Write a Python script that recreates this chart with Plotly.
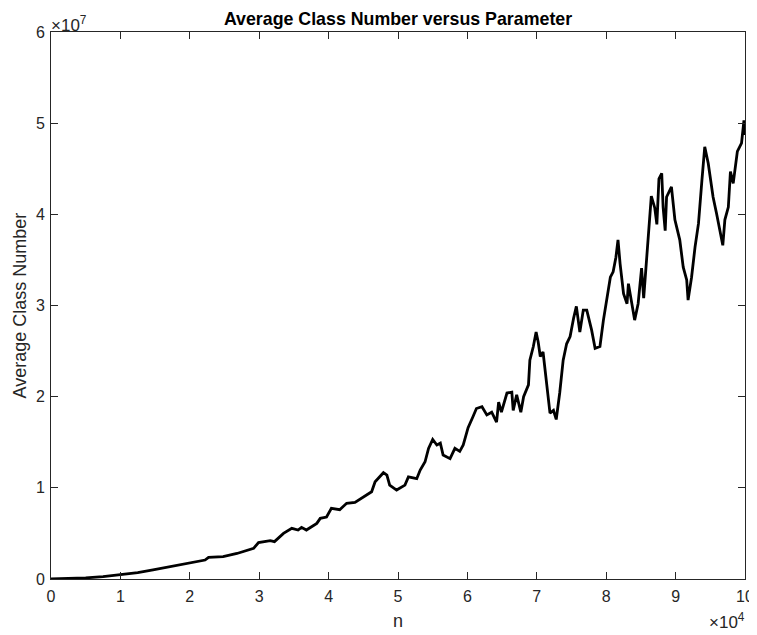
import plotly.graph_objects as go

# n values in units of 1e4, average class number in units of 1e7
n_scaled = [0, 0.25, 0.5, 0.75, 0.99, 1.25, 1.47, 1.75, 1.96, 2.22, 2.27, 2.48, 2.68, 2.92, 2.99,
            3.16, 3.22, 3.35, 3.47, 3.56, 3.61, 3.68, 3.83, 3.88, 3.97, 4.04, 4.16, 4.26, 4.38,
            4.50, 4.62, 4.67, 4.79, 4.84, 4.88, 4.98, 5.10, 5.15, 5.27, 5.32, 5.39, 5.44, 5.50,
            5.56, 5.61, 5.65, 5.75, 5.82, 5.89, 5.94, 6.01, 6.08, 6.13, 6.21, 6.28, 6.35, 6.42,
            6.45, 6.49, 6.57, 6.64, 6.66, 6.71, 6.77, 6.81, 6.88, 6.90, 6.95, 6.99, 7.02, 7.05,
            7.09, 7.14, 7.19, 7.24, 7.28, 7.33, 7.38, 7.43, 7.48, 7.53, 7.57, 7.62, 7.67, 7.72,
            7.79, 7.84, 7.91, 7.96, 8.01, 8.06, 8.10, 8.14, 8.17, 8.20, 8.25, 8.30, 8.32, 8.37,
            8.41, 8.46, 8.51, 8.54, 8.58, 8.61, 8.65, 8.70, 8.73, 8.76, 8.80, 8.82, 8.85, 8.87,
            8.94, 8.99, 9.06, 9.11, 9.16, 9.18, 9.23, 9.28, 9.33, 9.38, 9.42, 9.47, 9.50, 9.54,
            9.59, 9.63, 9.68, 9.71, 9.76, 9.79, 9.83, 9.89, 9.95, 9.985, 10.0]
avg_scaled = [0, 0.003, 0.012, 0.027, 0.044, 0.07, 0.099, 0.14, 0.172, 0.208, 0.238, 0.245, 0.28,
              0.336, 0.40, 0.42, 0.41, 0.50, 0.556, 0.537, 0.567, 0.537, 0.61, 0.665, 0.68,
              0.775, 0.76, 0.83, 0.84, 0.90, 0.957, 1.067, 1.166, 1.14, 1.03, 0.976, 1.03, 1.12,
              1.10, 1.195, 1.286, 1.433, 1.53, 1.47, 1.49, 1.36, 1.32, 1.433, 1.40, 1.47, 1.66,
              1.78, 1.87, 1.89, 1.80, 1.83, 1.72, 1.94, 1.83, 2.04, 2.05, 1.85, 2.02, 1.83, 2.0,
              2.13, 2.40, 2.55, 2.71, 2.60, 2.44, 2.49, 2.15, 1.82, 1.85, 1.75, 2.04, 2.40, 2.58,
              2.66, 2.86, 2.99, 2.71, 2.95, 2.95, 2.73, 2.53, 2.55, 2.84, 3.06, 3.31, 3.37, 3.53,
              3.72, 3.46, 3.13, 3.02, 3.24, 2.99, 2.84, 3.02, 3.41, 3.08, 3.46, 3.72, 4.20, 4.07,
              3.89, 4.39, 4.45, 4.08, 3.82, 4.19, 4.30, 3.94, 3.72, 3.42, 3.28, 3.06, 3.31, 3.64,
              3.90, 4.38, 4.74, 4.56, 4.38, 4.19, 4.01, 3.86, 3.66, 3.94, 4.08, 4.47, 4.34, 4.69,
              4.78, 5.03, 4.87]

x_ticks = [0, 1, 2, 3, 4, 5, 6, 7, 8, 9, 10]
y_ticks = [0, 1, 2, 3, 4, 5, 6]

n_vals = [v * 1e4 for v in n_scaled]
avg_vals = [v * 1e7 for v in avg_scaled]

AX = "#262626"
FONT = "Liberation Sans, Arial, Helvetica, sans-serif"
OFF = 8  # page body margin in the browser
W, H = 757 - OFF, 635 - OFF
L, T = 51 - OFF, 32 - OFF
R = W - (745 - OFF)
B = H - (579 - OFF)
PW, PH = W - L - R, H - T - B

fig = go.Figure()
fig.add_trace(go.Scatter(x=n_vals, y=avg_vals, mode="lines",
                         line=dict(color="black", width=2.8), showlegend=False))

axis_common = dict(showgrid=False, zeroline=False, showline=True, linecolor=AX, linewidth=1,
                   mirror="ticks", ticks="inside", ticklen=7, tickcolor=AX, automargin=False,
                   tickfont=dict(size=16, color=AX, family=FONT))

fig.update_layout(
    width=W, height=H,
    margin=dict(l=L, r=R, t=T, b=B),
    paper_bgcolor="white", plot_bgcolor="white",
    font=dict(family=FONT, color=AX, size=16),
    title=dict(text="<b>Average Class Number versus Parameter</b>",
               x=(L + PW / 2) / W, xanchor="center", y=1 - (19 - OFF) / H, yanchor="middle",
               font=dict(size=17.8, color="black", family=FONT)),
    xaxis=dict(range=[0, 1e5], tickvals=[t * 1e4 for t in x_ticks],
               ticktext=[str(t) for t in x_ticks], ticklabelstandoff=3, **axis_common),
    yaxis=dict(range=[0, 6e7], tickvals=[t * 1e7 for t in y_ticks],
               ticktext=[str(t) for t in y_ticks], ticklabelstandoff=2, **axis_common),
)

# axis titles
fig.add_annotation(text="n", xref="paper", yref="paper", x=0.5, y=-(621 - 579) / PH,
                   xanchor="center", yanchor="middle", showarrow=False,
                   font=dict(size=18, color=AX, family=FONT))
fig.add_annotation(text="Average Class Number", xref="paper", yref="paper",
                   x=(19 - 51) / PW, y=0.5, textangle=-90,
                   xanchor="center", yanchor="middle", showarrow=False,
                   font=dict(size=18, color=AX, family=FONT))

# exponent labels
fig.add_annotation(text="×10<sup>7</sup>", xref="paper", yref="paper", x=0, y=1,
                   xanchor="left", yanchor="bottom", showarrow=False,
                   font=dict(size=17, color=AX, family=FONT), xshift=-2, yshift=-5)
fig.add_annotation(text="×10<sup>4</sup>", xref="paper", yref="paper", x=1, y=0,
                   xanchor="right", yanchor="top", showarrow=False,
                   font=dict(size=17, color=AX, family=FONT), yshift=-29, xshift=2)

fig.write_html("out.html")
